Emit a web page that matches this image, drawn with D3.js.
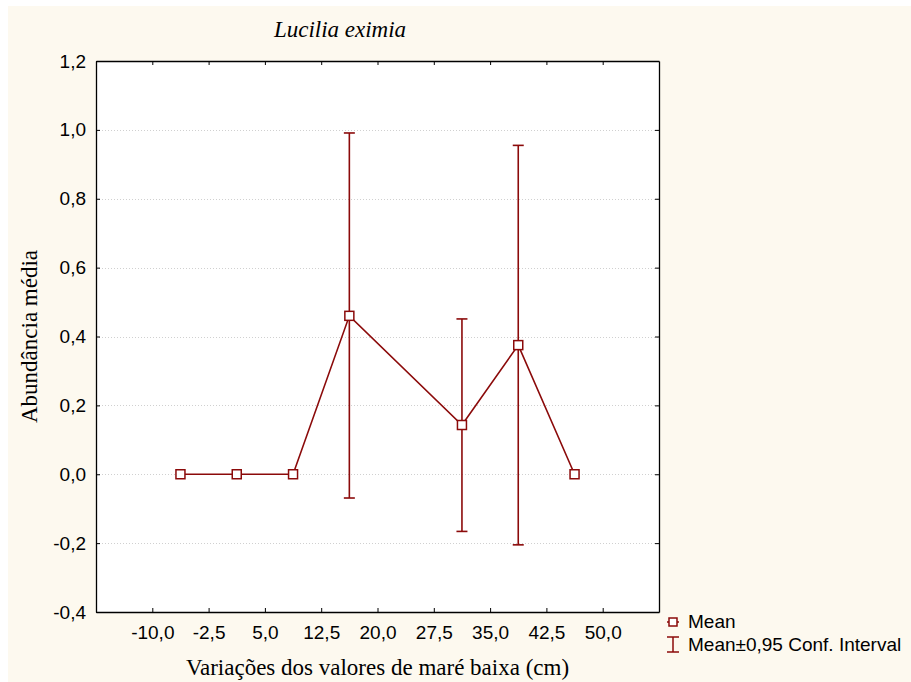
<!DOCTYPE html>
<html>
<head>
<meta charset="utf-8">
<script src="https://cdn.jsdelivr.net/npm/d3@7"></script>
<style>
html,body{margin:0;padding:0;background:#ffffff;}
svg{display:block;}
</style>
</head>
<body>
<svg id="chart" width="911" height="682"></svg>
<script>
// ---- data ----
const xValues = [-6.25, 1.25, 8.75, 16.25, 31.25, 38.75, 46.25];
const meanValues = [0, 0, 0, 0.46, 0.143, 0.375, 0];
const ciLower = [null, null, null, -0.069, -0.166, -0.205, null];
const ciUpper = [null, null, null, 0.991, 0.451, 0.955, null];
const xTicks = [-10, -2.5, 5, 12.5, 20, 27.5, 35, 42.5, 50];
const yTicks = [-0.4, -0.2, 0, 0.2, 0.4, 0.6, 0.8, 1.0, 1.2];
const titleText = "Lucilia eximia";
const xLabel = "Variações dos valores de maré baixa (cm)";
const yLabel = "Abundância média";
const legendLabels = ["Mean", "Mean±0,95 Conf. Interval"];

// ---- layout ----
const W = 911, H = 682;
const plot = {left: 96, right: 659, top: 61, bottom: 612};
const red = "#8b0a0a";
const sans = "Liberation Sans, Arial, sans-serif";
const serif = "Liberation Serif, Times New Roman, serif";
const svg = d3.select("#chart");

svg.append("rect").attr("x", 8).attr("y", 6).attr("width", W - 8).attr("height", H - 6).attr("fill", "#fdf9ef");

const x = d3.scaleLinear().domain([-17.5, 57.5]).range([plot.left, plot.right]);
const y = d3.scaleLinear().domain([-0.4, 1.2]).range([plot.bottom, plot.top]);
const fmt = v => d3.format(".1f")(v).replace(".", ",").replace("−", "-");

svg.append("rect").attr("x", plot.left).attr("y", plot.top)
  .attr("width", plot.right - plot.left).attr("height", plot.bottom - plot.top)
  .attr("fill", "#ffffff");

// grid
svg.append("g").selectAll("line").data(yTicks.filter(v => v > -0.4 && v < 1.2)).join("line")
  .attr("x1", plot.left).attr("x2", plot.right)
  .attr("y1", d => Math.round(y(d)) + 0.5).attr("y2", d => Math.round(y(d)) + 0.5)
  .attr("stroke", "#d0d0d0").attr("stroke-width", 1).attr("stroke-dasharray", "1,2");

// axes
const tickLen = 4;
const axB = svg.append("g").attr("transform", `translate(0,${plot.bottom})`)
  .call(d3.axisBottom(x).tickValues(xTicks).tickFormat(fmt).tickSizeInner(-tickLen).tickSizeOuter(0).tickPadding(14));
const axT = svg.append("g").attr("transform", `translate(0,${plot.top})`)
  .call(d3.axisTop(x).tickValues(xTicks).tickFormat("").tickSizeInner(-tickLen).tickSizeOuter(0));
const axL = svg.append("g").attr("transform", `translate(${plot.left},0)`)
  .call(d3.axisLeft(y).tickValues(yTicks).tickFormat(fmt).tickSizeInner(-tickLen).tickSizeOuter(0).tickPadding(10));
const axR = svg.append("g").attr("transform", `translate(${plot.right},0)`)
  .call(d3.axisRight(y).tickValues(yTicks).tickFormat("").tickSizeInner(-tickLen).tickSizeOuter(0));
[axB, axT, axL, axR].forEach(a => {
  a.select(".domain").attr("stroke", "#000").attr("stroke-width", 1.3);
  a.selectAll(".tick line").attr("stroke", "#000");
  a.selectAll("text").attr("font-family", sans).attr("font-size", 19).attr("fill", "#000");
});

// mean line
const pts = xValues.map((v, i) => ({x: v, m: meanValues[i], lo: ciLower[i], hi: ciUpper[i]}));
svg.append("path").datum(pts)
  .attr("d", d3.line().x(d => x(d.x)).y(d => y(d.m)))
  .attr("fill", "none").attr("stroke", red).attr("stroke-width", 1.6);

// error bars
const eb = svg.append("g").selectAll("g").data(pts.filter(d => d.lo !== null)).join("g");
eb.append("line").attr("x1", d => x(d.x)).attr("x2", d => x(d.x))
  .attr("y1", d => y(d.lo)).attr("y2", d => y(d.hi)).attr("stroke", red).attr("stroke-width", 1.6);
eb.append("line").attr("x1", d => x(d.x) - 5.5).attr("x2", d => x(d.x) + 5.5)
  .attr("y1", d => y(d.hi)).attr("y2", d => y(d.hi)).attr("stroke", red).attr("stroke-width", 1.6);
eb.append("line").attr("x1", d => x(d.x) - 5.5).attr("x2", d => x(d.x) + 5.5)
  .attr("y1", d => y(d.lo)).attr("y2", d => y(d.lo)).attr("stroke", red).attr("stroke-width", 1.6);

// markers
svg.append("g").selectAll("rect").data(pts).join("rect")
  .attr("x", d => x(d.x) - 4.5).attr("y", d => y(d.m) - 4.5)
  .attr("width", 9).attr("height", 9)
  .attr("fill", "#fff").attr("stroke", red).attr("stroke-width", 1.5);

// titles
svg.append("text").attr("x", 340).attr("y", 37).attr("text-anchor", "middle")
  .attr("font-family", serif).attr("font-style", "italic")
  .attr("font-size", 23).text(titleText);
svg.append("text").attr("x", (plot.left + plot.right) / 2).attr("y", 675).attr("text-anchor", "middle")
  .attr("font-family", serif).attr("font-size", 23).text(xLabel);
svg.append("text").attr("transform", `translate(37,${(plot.top + plot.bottom) / 2}) rotate(-90)`)
  .attr("text-anchor", "middle")
  .attr("font-family", serif).attr("font-size", 23).text(yLabel);

// legend
const lg = svg.append("g");
lg.append("line").attr("x1", 667).attr("x2", 679).attr("y1", 622).attr("y2", 622).attr("stroke", red).attr("stroke-width", 1.5);
lg.append("rect").attr("x", 669).attr("y", 618).attr("width", 8).attr("height", 8).attr("fill", "#fff").attr("stroke", red).attr("stroke-width", 1.5);
lg.append("line").attr("x1", 673).attr("x2", 673).attr("y1", 637).attr("y2", 652).attr("stroke", red).attr("stroke-width", 1.5);
lg.append("line").attr("x1", 667).attr("x2", 679).attr("y1", 637).attr("y2", 637).attr("stroke", red).attr("stroke-width", 1.5);
lg.append("line").attr("x1", 667).attr("x2", 679).attr("y1", 652).attr("y2", 652).attr("stroke", red).attr("stroke-width", 1.5);
lg.selectAll("text").data(legendLabels).join("text")
  .attr("x", 688).attr("y", (d, i) => 628 + i * 23)
  .attr("font-family", sans).attr("font-size", 19).text(d => d);
</script>
</body>
</html>
